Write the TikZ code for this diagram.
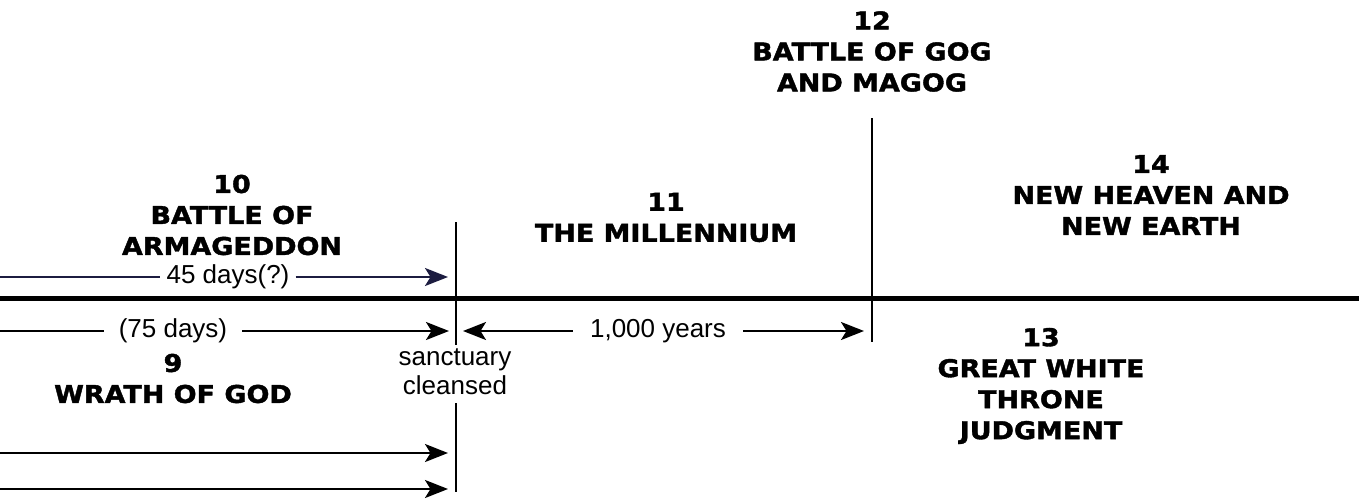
\documentclass[tikz,border=0pt]{standalone}
\usepackage{fontspec}
\setmainfont{Liberation Sans}
\newfontfamily\headfont[FakeStretch=1.1,BoldFeatures={FakeBold=1.6}]{DejaVu Sans}
\usetikzlibrary{arrows.meta}
\definecolor{navyline}{RGB}{28,28,64}
\tikzset{
  head/.style={font=\headfont\bfseries\fontsize{24.5}{31}\selectfont, align=center, inner sep=0pt},
  lbl/.style={font=\fontsize{26}{29}\selectfont, align=center, inner sep=0pt},
  thinline/.style={line width=2.4pt},
  arr/.style={thinline, -{Stealth[length=23pt,width=18pt,inset=5.5pt]}},
  mainline/.style={line width=5pt},
}
\begin{document}
\begin{tikzpicture}[x=1pt,y=-1pt]
\useasboundingbox (0,0) rectangle (1359,501);
% coordinates
\coordinate (mL) at (0,298);
\coordinate (mR) at (1359,298);
\coordinate (v1top) at (456,222);
\coordinate (v1mid) at (456,345);
\coordinate (v1low) at (456,403);
\coordinate (v1bot) at (456,492);
\coordinate (v2top) at (872,118);
\coordinate (v2bot) at (872,342);
\coordinate (a45L) at (0,277);
\coordinate (a45R) at (448,277);
\coordinate (a75L) at (0,331);
\coordinate (a75R) at (449,331);
\coordinate (a3L) at (0,453);
\coordinate (a3R) at (448,453);
\coordinate (a4L) at (0,489);
\coordinate (a4R) at (448,489);
\coordinate (kL) at (463,331);
\coordinate (kR) at (864,331);

% main line and verticals
\draw[mainline] (mL) -- (mR);
\draw[thinline] (v1top) -- (v1mid);
\draw[thinline] (v1low) -- (v1bot);
\draw[thinline] (v2top) -- (v2bot);

% headings
\node[head] (n10) at (232,215) {10\\BATTLE OF\\ARMAGEDDON};
\node[head] (n11) at (666,217.5) {11\\THE MILLENNIUM};
\node[head] (n12) at (872,51.5) {12\\BATTLE OF GOG\\AND MAGOG};
\node[head] (n14) at (1151,195) {14\\NEW HEAVEN AND\\NEW EARTH};
\node[head] (n13) at (1041,386) {13\\GREAT WHITE\\THRONE\\JUDGMENT};
\node[head] (n9) at (173,378.5) {9\\WRATH OF GOD};
\node[lbl] (sanc) at (455,372) {sanctuary\\cleansed};

% arrows with labels
\node[lbl, inner xsep=6pt] (t45) at (228,277) {45 days(?)};
\draw[thinline, navyline] (a45L) -- (t45.west);
\draw[arr, navyline] (t45.east) -- (a45R);

\node[lbl, inner xsep=15pt] (t75) at (173,331) {(75 days)};
\draw[thinline] (a75L) -- (t75.west);
\draw[arr] (t75.east) -- (a75R);

\node[lbl, inner xsep=17pt] (tk) at (658,331) {1,000 years};
\draw[arr] (tk.west) -- (kL);
\draw[arr] (tk.east) -- (kR);

\draw[arr] (a3L) -- (a3R);
\draw[arr] (a4L) -- (a4R);
\end{tikzpicture}
\end{document}
